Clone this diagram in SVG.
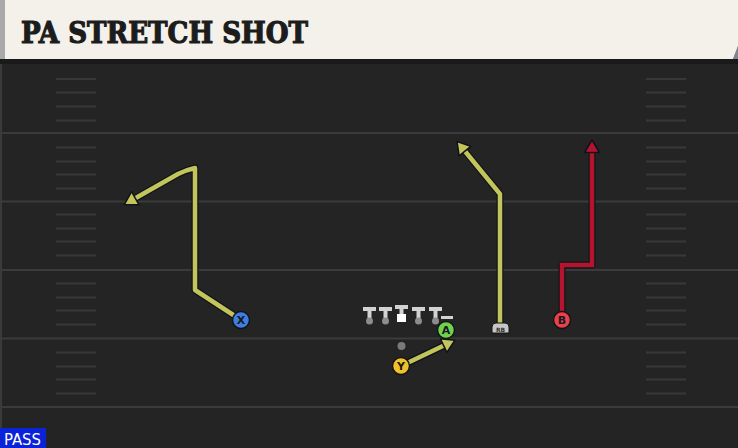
<svg xmlns="http://www.w3.org/2000/svg" width="738" height="448" viewBox="0 0 738 448">
<defs>
<style>
.yl{stroke:#3b3b3b;stroke-width:2;fill:none}
.hash{stroke:#383838;stroke-width:2}
.out{fill:none;stroke:#101418;stroke-width:7;stroke-linejoin:round}
.ylw{fill:none;stroke:#c3c45b;stroke-width:4.5;stroke-linejoin:round}
.red{fill:none;stroke:#b4142f;stroke-width:4.5;stroke-linejoin:miter}
.pl{stroke:#141414;stroke-width:1.5}
.lbl{font-family:"DejaVu Sans",sans-serif;font-weight:bold;font-size:11px;fill:#1a1a1a;text-anchor:middle}
.tbar{fill:#d2d2d2}
.tdot{fill:#8c8c8c}
</style>
<marker id="ahY" markerUnits="userSpaceOnUse" markerWidth="20" markerHeight="20" refX="3" refY="10" orient="auto" viewBox="0 0 20 20">
<path d="M1.5,2.5 L14,10 L1.5,17.5 Z" fill="#c3c45b" stroke="#101418" stroke-width="1.5" stroke-linejoin="round"/>
</marker>
<marker id="ahR" markerUnits="userSpaceOnUse" markerWidth="20" markerHeight="20" refX="3" refY="10" orient="auto" viewBox="0 0 20 20">
<path d="M1.5,2.5 L14,10 L1.5,17.5 Z" fill="#b4142f" stroke="#101418" stroke-width="1.5" stroke-linejoin="round"/>
</marker>
</defs>

<g id="field">
<rect x="0" y="0" width="738" height="448" fill="#242424"/>
<rect x="0" y="59" width="738" height="5" fill="#1a1a1a"/>
<rect x="0" y="64" width="2" height="384" fill="#3a3a3a"/>
<line class="yl" x1="0" y1="133" x2="738" y2="133"/>
<line class="yl" x1="0" y1="201.5" x2="738" y2="201.5"/>
<line class="yl" x1="0" y1="270" x2="738" y2="270"/>
<line class="yl" x1="0" y1="338.5" x2="738" y2="338.5"/>
<line class="yl" x1="0" y1="407" x2="738" y2="407"/>
<g class="hash">
<line x1="56" y1="79" x2="96" y2="79"/><line x1="56" y1="92.5" x2="96" y2="92.5"/><line x1="56" y1="106.5" x2="96" y2="106.5"/><line x1="56" y1="120.5" x2="96" y2="120.5"/>
<line x1="56" y1="147.5" x2="96" y2="147.5"/><line x1="56" y1="161.5" x2="96" y2="161.5"/><line x1="56" y1="174.5" x2="96" y2="174.5"/><line x1="56" y1="188.5" x2="96" y2="188.5"/>
<line x1="56" y1="214.5" x2="96" y2="214.5"/><line x1="56" y1="228.5" x2="96" y2="228.5"/><line x1="56" y1="241.5" x2="96" y2="241.5"/><line x1="56" y1="255.5" x2="96" y2="255.5"/>
<line x1="56" y1="283.5" x2="96" y2="283.5"/><line x1="56" y1="297.5" x2="96" y2="297.5"/><line x1="56" y1="310.5" x2="96" y2="310.5"/><line x1="56" y1="324.5" x2="96" y2="324.5"/>
<line x1="56" y1="352.5" x2="96" y2="352.5"/><line x1="56" y1="366.5" x2="96" y2="366.5"/><line x1="56" y1="379.5" x2="96" y2="379.5"/><line x1="56" y1="393.5" x2="96" y2="393.5"/>
<line x1="646" y1="79" x2="686" y2="79"/><line x1="646" y1="92.5" x2="686" y2="92.5"/><line x1="646" y1="106.5" x2="686" y2="106.5"/><line x1="646" y1="120.5" x2="686" y2="120.5"/>
<line x1="646" y1="147.5" x2="686" y2="147.5"/><line x1="646" y1="161.5" x2="686" y2="161.5"/><line x1="646" y1="174.5" x2="686" y2="174.5"/><line x1="646" y1="188.5" x2="686" y2="188.5"/>
<line x1="646" y1="214.5" x2="686" y2="214.5"/><line x1="646" y1="228.5" x2="686" y2="228.5"/><line x1="646" y1="241.5" x2="686" y2="241.5"/><line x1="646" y1="255.5" x2="686" y2="255.5"/>
<line x1="646" y1="283.5" x2="686" y2="283.5"/><line x1="646" y1="297.5" x2="686" y2="297.5"/><line x1="646" y1="310.5" x2="686" y2="310.5"/><line x1="646" y1="324.5" x2="686" y2="324.5"/>
<line x1="646" y1="352.5" x2="686" y2="352.5"/><line x1="646" y1="366.5" x2="686" y2="366.5"/><line x1="646" y1="379.5" x2="686" y2="379.5"/><line x1="646" y1="393.5" x2="686" y2="393.5"/>
</g>
</g>

<g id="header">
<polygon points="733,59 738,46 738,59" fill="#7d8590"/>
<polygon points="0,0 738,0 738,46 733,59 0,59" fill="#f4f1ea"/>
<rect x="0" y="0" width="5" height="59" fill="#a9a9a9"/>
<text x="21" y="43" font-family="'DejaVu Serif',serif" font-weight="bold" font-size="29" fill="#1c1c1c" stroke="#1c1c1c" stroke-width="1.2" textLength="287" lengthAdjust="spacingAndGlyphs">PA STRETCH SHOT</text>
</g>

<g id="connectors">
<path class="out" d="M241,320 L195,290 L195,168 Q186,170 178,174 L134,199"/>
<path class="ylw" d="M241,320 L195,290 L195,168 Q186,170 178,174 L134,199" marker-end="url(#ahY)"/>
<path class="out" d="M500,325 L500,194 L464,150"/>
<path class="ylw" d="M500,325 L500,194 L464,150" marker-end="url(#ahY)"/>
<path class="out" d="M401,366 L445,345"/>
<path class="ylw" d="M401,366 L445,345" marker-end="url(#ahY)"/>
<path class="out" d="M562,320 L562,265 L592,265 L592,151"/>
<path class="red" d="M562,320 L562,265 L592,265 L592,151" marker-end="url(#ahR)"/>
</g>

<g id="oline">
<g id="lt"><rect class="tbar" x="363" y="307" width="13" height="4"/><rect class="tbar" x="367.5" y="310" width="4" height="10"/><circle class="tdot" cx="369.5" cy="321" r="3.5"/></g>
<g id="lg"><rect class="tbar" x="379" y="307" width="13" height="4"/><rect class="tbar" x="383.5" y="310" width="4" height="10"/><circle class="tdot" cx="385.5" cy="321" r="3.5"/></g>
<g id="c"><rect class="tbar" x="395" y="305" width="13" height="4"/><rect class="tbar" x="399.5" y="308" width="4" height="6"/><rect x="397" y="314" width="9" height="8" fill="#ffffff"/></g>
<g id="rg"><rect class="tbar" x="412" y="307" width="13" height="4"/><rect class="tbar" x="416.5" y="310" width="4" height="10"/><circle class="tdot" cx="418.5" cy="321" r="3.5"/></g>
<g id="rt"><rect class="tbar" x="429" y="307" width="13" height="4"/><rect class="tbar" x="433.5" y="310" width="4" height="10"/><circle class="tdot" cx="435.5" cy="321" r="3.5"/></g>
<g id="te"><rect class="tbar" x="441" y="316" width="12" height="3"/></g>
</g>

<g id="qb"><circle cx="401.5" cy="346" r="4" fill="#7a7a7a"/></g>

<g id="player-a"><circle class="pl" cx="446" cy="330" r="8.5" fill="#6fd24e"/><text class="lbl" x="446" y="334">A</text></g>
<g id="player-y"><circle class="pl" cx="401" cy="366" r="8.5" fill="#f0c22a"/><text class="lbl" x="401" y="370">Y</text></g>
<g id="player-x"><circle class="pl" cx="241" cy="320" r="8.5" fill="#3d7ee2"/><text class="lbl" x="241" y="324">X</text></g>
<g id="player-b"><circle class="pl" cx="562" cy="320" r="8.5" fill="#e8414c"/><text class="lbl" x="562" y="324">B</text></g>
<g id="player-rb"><path d="M492,333 L492,327 Q492,323 496,323 L505,323 Q509,323 509,327 L509,333 Z" fill="#c6c6c6" stroke="#141414" stroke-width="1"/><text x="500.5" y="331.5" font-family="'DejaVu Sans',sans-serif" font-size="6" font-weight="bold" fill="#333" text-anchor="middle">RB</text></g>

<g id="pass-tag">
<rect x="0" y="428" width="46" height="20" fill="#0a22d8"/>
<text x="4" y="444.5" font-family="'DejaVu Sans Condensed','DejaVu Sans',sans-serif" font-size="15" fill="#ffffff" textLength="37" lengthAdjust="spacingAndGlyphs">PASS</text>
</g>
</svg>
